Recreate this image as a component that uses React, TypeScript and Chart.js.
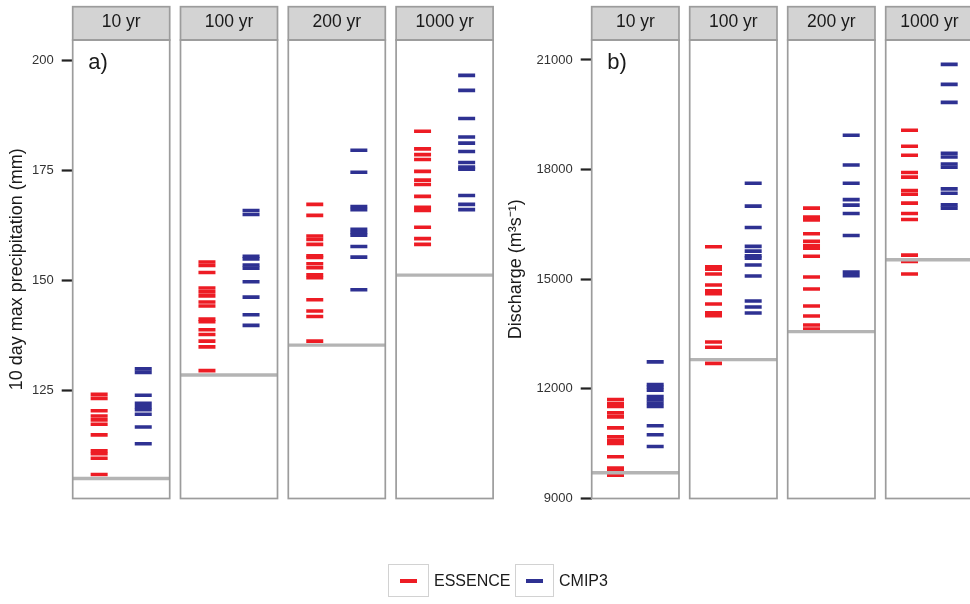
import React, { useEffect, useRef } from 'react';
import { Chart, registerables } from 'chart.js';

Chart.register(...registerables);
Chart.defaults.font.family = '"Liberation Sans", Arial, Helvetica, sans-serif';

// Return periods shown as facets
const returnPeriods = ['10 yr', '100 yr', '200 yr', '1000 yr'];
const seriesNames = ['ESSENCE', 'CMIP3'];

// a) 10 day max precipitation (mm), one list per return period
const precipEssence10 = [124.0, 123.1, 120.3, 119.1, 118.2, 117.2, 114.8, 111.2, 110.5, 109.5, 105.8];
const precipEssence100 = [154.1, 153.3, 151.7, 148.2, 147.3, 146.4, 145.0, 144.1, 141.1, 140.5, 138.7, 137.6, 136.1, 134.8, 129.4];
const precipEssence200 = [167.2, 164.7, 160.0, 159.2, 158.1, 155.5, 155.1, 153.7, 152.8, 151.2, 150.5, 145.5, 142.95, 141.7, 136.1];
const precipEssence1000 = [183.8, 179.8, 178.5, 177.4, 174.7, 172.7, 171.7, 169.0, 166.5, 165.8, 162.0, 159.4, 158.1];

const precipCmip10 = [129.8, 129.0, 123.8, 122.0, 121.2, 120.5, 119.5, 116.6, 112.8];
const precipCmip100 = [165.8, 164.9, 155.4, 154.8, 153.4, 152.7, 149.6, 146.1, 142.1, 139.7];
const precipCmip200 = [179.5, 174.5, 166.7, 166.0, 161.5, 160.8, 160.2, 157.6, 155.2, 147.8];
const precipCmip1000 = [196.5, 193.1, 186.7, 182.5, 181.1, 179.2, 176.7, 175.7, 175.2, 169.2, 167.2, 166.0];

const precipObserved = [104.9, 128.4, 135.2, 151.1];
const precipTicks = [125, 150, 175, 200];

// b) Discharge (m3/s), one list per return period
const dischargeEssence10 = [11708, 11598, 11516, 11344, 11235, 10934, 10689, 10596, 10505, 10142, 9831, 9760, 9640];
const dischargeEssence100 = [15888, 15341, 15278, 15142, 14841, 14686, 14604, 14322, 14084, 14002, 13284, 13137, 12699];
const dischargeEssence200 = [16945, 16699, 16625, 16243, 16040, 15923, 15852, 15628, 15060, 14732, 14268, 13994, 13748, 13639];
const dischargeEssence1000 = [19076, 18639, 18393, 17920, 17794, 17427, 17327, 17082, 16798, 16634, 15661, 15486, 15142];

const dischargeCmip10 = [12738, 12120, 12044, 11962, 11790, 11699, 11607, 11516, 10989, 10743, 10421];
const dischargeCmip100 = [17628, 17000, 16415, 15900, 15770, 15642, 15579, 15388, 15087, 14404, 14240, 14076];
const dischargeCmip200 = [18939, 18128, 17628, 17180, 17027, 16798, 16196, 15196, 15095];
const dischargeCmip1000 = [20879, 20333, 19841, 18448, 18346, 18155, 18065, 17472, 17355, 17035, 16945];

const dischargeObserved = [9705, 12800, 13566, 15532];
const dischargeTicks = [9000, 12000, 15000, 18000, 21000];

const ESSENCE_COLOR = '#ed1c24';
const CMIP3_COLOR = '#2e3192';
const OBSERVED_COLOR = '#b4b4b4';
const FRAME_COLOR = '#9c9c9c';
const STRIP_FILL = '#d3d3d3';
const FONT = '"Liberation Sans", Arial, Helvetica, sans-serif';

type PanelSpec = {
  tag: string;
  yTitle: string;
  essence: number[][];
  cmip3: number[][];
  observed: number[];
  yMin: number;
  yMax: number;
  ticks: number[];
  left: number;
  width: number;
  axisWidth: number;
  padRight: number;
  pitch: number;
  titlePad: number;
};

const panels: PanelSpec[] = [
  {
    tag: 'a)',
    yTitle: '10 day max precipitation (mm)',
    essence: [precipEssence10, precipEssence100, precipEssence200, precipEssence1000],
    cmip3: [precipCmip10, precipCmip100, precipCmip200, precipCmip1000],
    observed: precipObserved,
    yMin: 100.34,
    yMax: 204.55,
    ticks: precipTicks,
    left: 0,
    width: 500,
    axisWidth: 72.7,
    padRight: 6.9,
    pitch: 2.445,
    titlePad: 6.7,
  },
  {
    tag: 'b)',
    yTitle: 'Discharge (m\u00B3s\u207B\u00B9)',
    essence: [dischargeEssence10, dischargeEssence100, dischargeEssence200, dischargeEssence1000],
    cmip3: [dischargeCmip10, dischargeCmip100, dischargeCmip200, dischargeCmip1000],
    observed: dischargeObserved,
    yMin: 9000,
    yMax: 21547,
    ticks: dischargeTicks,
    left: 500,
    width: 480,
    axisWidth: 91.7,
    padRight: 7,
    pitch: 2.47,
    titlePad: 4.9,
  },
];

const CANVAS_HEIGHT = 604;
const PLOT_TOP = 40;
const PLOT_BOTTOM = 498.5;
const STRIP_HEIGHT = 33.3;

// Facet frames, strip headers and the panel tag
const facetPlugin = {
  id: 'facetFrames',
  afterDatasetsDraw(chart: any, _args: any, opts: any) {
    const { ctx, chartArea } = chart;
    const xs = chart.scales.x;
    const pitch = opts.pitch as number;
    ctx.save();
    returnPeriods.forEach((label, f) => {
      const l = xs.getPixelForValue(f * pitch + 0.4);
      const r = xs.getPixelForValue(f * pitch + 2.6);
      const top = chartArea.top;
      const bottom = chartArea.bottom;
      ctx.fillStyle = STRIP_FILL;
      ctx.fillRect(l, top - STRIP_HEIGHT, r - l, STRIP_HEIGHT);
      ctx.strokeStyle = FRAME_COLOR;
      ctx.lineWidth = 1.7;
      ctx.strokeRect(l, top - STRIP_HEIGHT, r - l, STRIP_HEIGHT);
      ctx.strokeRect(l, top, r - l, bottom - top);
      ctx.fillStyle = '#1a1a1a';
      ctx.font = `17.5px ${FONT}`;
      ctx.textAlign = 'center';
      ctx.textBaseline = 'alphabetic';
      ctx.fillText(label, (l + r) / 2, top - 12.7);
    });
    ctx.fillStyle = '#1a1a1a';
    ctx.font = `22px ${FONT}`;
    ctx.textAlign = 'left';
    ctx.textBaseline = 'alphabetic';
    ctx.fillText(opts.tag, xs.getPixelForValue(0.4) + 15.6, chartArea.top + 29);
    ctx.restore();
  },
};

function buildConfig(spec: PanelSpec): any {
  const P = spec.pitch;
  const datasets: any[] = [];

  spec.observed.forEach((v, f) => {
    datasets.push({
      label: `observed ${returnPeriods[f]}`,
      data: [
        { x: f * P + 0.4, y: v },
        { x: f * P + 2.6, y: v },
      ],
      showLine: true,
      borderColor: OBSERVED_COLOR,
      borderWidth: 3.4,
      pointRadius: 0,
      order: 0,
    });
  });

  const dashes = (lists: number[][], slot: number) =>
    lists.flatMap((vals, f) => vals.map((v) => ({ x: f * P + slot, y: v })));

  [spec.essence, spec.cmip3].forEach((lists, s) => {
    const color = s === 0 ? ESSENCE_COLOR : CMIP3_COLOR;
    datasets.push({
      label: seriesNames[s],
      data: dashes(lists, s + 1),
      showLine: false,
      pointStyle: 'line',
      pointRadius: 8.5,
      pointBorderWidth: 3.6,
      pointBorderColor: color,
      pointBackgroundColor: color,
      borderColor: color,
      backgroundColor: color,
      order: 1,
    });
  });

  return {
    type: 'scatter',
    data: { datasets },
    plugins: [facetPlugin],
    options: {
      animation: false,
      responsive: false,
      devicePixelRatio: 1,
      events: [],
      layout: {
        autoPadding: false,
        padding: {
          left: 0,
          right: spec.padRight,
          top: PLOT_TOP,
          bottom: CANVAS_HEIGHT - PLOT_BOTTOM,
        },
      },
      plugins: {
        legend: { display: false },
        tooltip: { enabled: false },
        facetFrames: { pitch: P, tag: spec.tag },
      },
      scales: {
        x: {
          type: 'linear',
          display: false,
          min: 0.4,
          max: 3 * P + 2.6,
        },
        y: {
          type: 'linear',
          min: spec.yMin,
          max: spec.yMax,
          afterBuildTicks: (s: any) => {
            s.ticks = spec.ticks.map((v) => ({ value: v }));
          },
          afterFit: (s: any) => {
            s.width = spec.axisWidth;
          },
          ticks: {
            callback: (v: any) => String(v),
            color: '#333333',
            font: { size: 13 },
            padding: 8,
          },
          grid: {
            drawOnChartArea: false,
            drawTicks: true,
            tickLength: 11,
            tickWidth: 2.2,
            tickColor: '#222222',
          },
          border: { display: false },
          title: {
            display: true,
            text: spec.yTitle,
            color: '#1a1a1a',
            font: { size: 18 },
            padding: { top: spec.titlePad, bottom: 0 },
          },
        },
      },
    },
  };
}

function PanelChart({ spec }: { spec: PanelSpec }) {
  const ref = useRef<HTMLCanvasElement | null>(null);
  useEffect(() => {
    if (!ref.current) return;
    const chart = new Chart(ref.current, buildConfig(spec));
    return () => chart.destroy();
  }, [spec]);
  return (
    <canvas
      ref={ref}
      width={spec.width}
      height={CANVAS_HEIGHT}
      style={{
        position: 'absolute',
        left: spec.left,
        top: 0,
        width: spec.width,
        height: CANVAS_HEIGHT,
      }}
    />
  );
}

function LegendKey({ left, width, color, label }: { left: number; width: number; color: string; label: string }) {
  return (
    <>
      <div
        style={{
          position: 'absolute',
          left,
          top: 564,
          width,
          height: 33,
          boxSizing: 'border-box',
          border: '1.5px solid #d2d2d2',
          background: '#ffffff',
        }}
      >
        <div
          style={{
            position: 'absolute',
            left: (width - 17) / 2 - 1.5,
            top: 14,
            width: 17,
            height: 3.5,
            background: color,
          }}
        />
      </div>
      <div
        style={{
          position: 'absolute',
          left: left + width + 5,
          top: 572.5,
          fontSize: 16,
          lineHeight: '16px',
          color: '#1a1a1a',
          whiteSpace: 'nowrap',
        }}
      >
        {label}
      </div>
    </>
  );
}

export default function App() {
  return (
    <div
      style={{
        position: 'absolute',
        left: 0,
        top: 0,
        width: 970,
        height: 604,
        overflow: 'hidden',
        background: '#ffffff',
        fontFamily: FONT,
      }}
    >
      {panels.map((p) => (
        <PanelChart key={p.tag} spec={p} />
      ))}
      <LegendKey left={388} width={41} color={ESSENCE_COLOR} label={seriesNames[0]} />
      <LegendKey left={515} width={39} color={CMIP3_COLOR} label={seriesNames[1]} />
    </div>
  );
}
